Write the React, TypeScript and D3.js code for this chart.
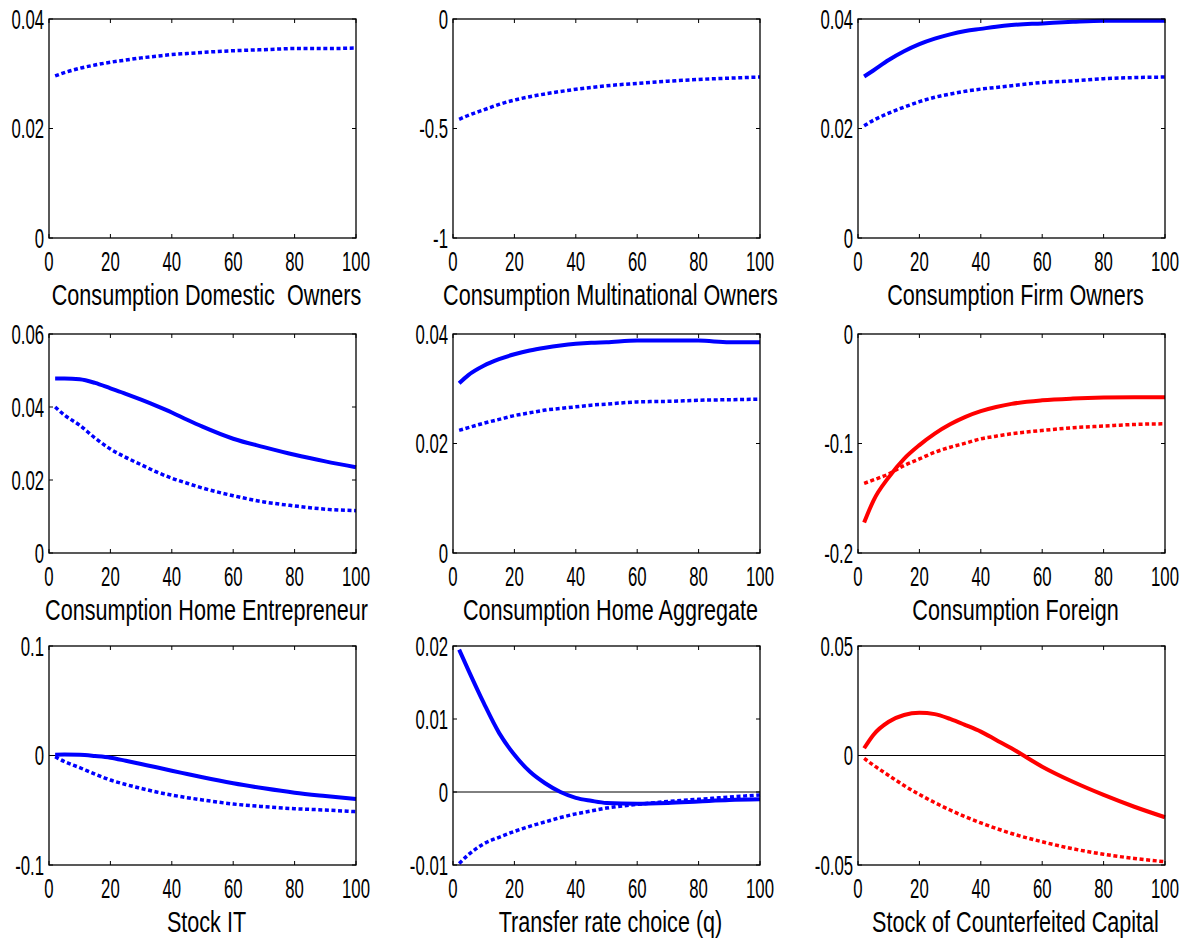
import React from "react";
import * as d3 from "d3";

const periods = [2, 5, 10, 15, 20, 25, 30, 35, 40, 45, 50, 60, 70, 80, 90, 100];

const xTicks = [0, 20, 40, 60, 80, 100];

const titles = [
  "Consumption Domestic  Owners",
  "Consumption Multinational Owners",
  "Consumption Firm Owners",
  "Consumption Home Entrepreneur",
  "Consumption Home Aggregate",
  "Consumption Foreign",
  "Stock IT",
  "Transfer rate choice (q)",
  "Stock of Counterfeited Capital",
];

const yDomains: [number, number][] = [
  [0, 0.04], [-1, 0], [0, 0.04],
  [0, 0.06], [0, 0.04], [-0.2, 0],
  [-0.1, 0.1], [-0.01, 0.02], [-0.05, 0.05],
];

const yTicks: number[][] = [
  [0, 0.02, 0.04], [-1, -0.5, 0], [0, 0.02, 0.04],
  [0, 0.02, 0.04, 0.06], [0, 0.02, 0.04], [-0.2, -0.1, 0],
  [-0.1, 0, 0.1], [-0.01, 0, 0.01, 0.02], [-0.05, 0, 0.05],
];

const colors = ["blue", "blue", "blue", "blue", "blue", "red", "blue", "blue", "red"];
const zeroLines = [false, false, false, false, false, false, true, true, true];

// Solid lines (null = no solid line in that panel)
const solidDomesticOwners: number[] | null = null;
const solidMultinationalOwners: number[] | null = null;
const solidFirmOwners = [0.0295, 0.0306, 0.0325, 0.0341, 0.0354, 0.0364, 0.0372, 0.0378, 0.0382, 0.0386, 0.0389, 0.0392, 0.0395, 0.0397, 0.0397, 0.0397];
const solidHomeEntrepreneur = [0.0478, 0.0478, 0.0476, 0.0466, 0.0451, 0.0436, 0.042, 0.0403, 0.0385, 0.0365, 0.0346, 0.0313, 0.029, 0.0269, 0.0251, 0.0235];
const solidHomeAggregate = [0.031, 0.0325, 0.0342, 0.0354, 0.0363, 0.037, 0.0375, 0.0379, 0.0382, 0.0384, 0.0385, 0.0388, 0.0388, 0.0388, 0.0385, 0.0385];
const solidForeign = [-0.1722, -0.1523, -0.1309, -0.114, -0.1015, -0.091, -0.0825, -0.0757, -0.0705, -0.0667, -0.0638, -0.0606, -0.059, -0.0581, -0.0578, -0.0578];
const solidStockIT = [0.0007, 0.0008, 0.0006, -0.0005, -0.002, -0.0048, -0.0078, -0.0108, -0.0139, -0.0169, -0.0199, -0.0254, -0.03, -0.034, -0.037, -0.0397];
const solidTransferRate = [0.0195, 0.0167, 0.0122, 0.0081, 0.0051, 0.0028, 0.0012, 0.0, -0.0008, -0.0012, -0.0015, -0.0016, -0.0015, -0.0013, -0.0011, -0.001];
const solidCounterfeit = [0.0033, 0.0094, 0.0154, 0.0185, 0.0195, 0.0189, 0.0167, 0.0139, 0.0109, 0.0071, 0.0033, -0.0051, -0.012, -0.018, -0.0234, -0.0282];

// Dotted lines
const dottedDomesticOwners = [0.0296, 0.0302, 0.031, 0.0316, 0.0321, 0.0325, 0.0329, 0.0332, 0.0335, 0.0337, 0.0339, 0.0342, 0.0344, 0.0346, 0.0346, 0.0347];
const dottedMultinationalOwners = [-0.458, -0.44, -0.415, -0.39, -0.37, -0.355, -0.342, -0.331, -0.321, -0.313, -0.305, -0.294, -0.284, -0.276, -0.27, -0.265];
const dottedFirmOwners = [0.0205, 0.0215, 0.0228, 0.0239, 0.0249, 0.0257, 0.0263, 0.0268, 0.0272, 0.0275, 0.0278, 0.0284, 0.0287, 0.0291, 0.0293, 0.0294];
const dottedHomeEntrepreneur = [0.04, 0.0378, 0.035, 0.0315, 0.0285, 0.0262, 0.0242, 0.0222, 0.0205, 0.0191, 0.0178, 0.0157, 0.014, 0.0129, 0.012, 0.0116];
const dottedHomeAggregate = [0.0224, 0.0229, 0.0237, 0.0244, 0.0251, 0.0256, 0.0261, 0.0264, 0.0267, 0.027, 0.0272, 0.0276, 0.0277, 0.0279, 0.028, 0.0281];
const dottedForeign = [-0.1364, -0.1333, -0.1278, -0.1202, -0.1141, -0.108, -0.1034, -0.0997, -0.0957, -0.0933, -0.0911, -0.0881, -0.0856, -0.0841, -0.0826, -0.082];
const dottedStockIT = [-0.0011, -0.0055, -0.0111, -0.017, -0.0224, -0.0265, -0.03, -0.0333, -0.0361, -0.0385, -0.0406, -0.0443, -0.0467, -0.0486, -0.0498, -0.0513];
const dottedTransferRate = [-0.0098, -0.0086, -0.0071, -0.0062, -0.0054, -0.0047, -0.0041, -0.0035, -0.003, -0.0026, -0.0022, -0.0017, -0.0013, -0.001, -0.0007, -0.0004];
const dottedCounterfeit = [-0.0013, -0.0044, -0.0091, -0.0137, -0.0178, -0.0215, -0.0249, -0.028, -0.0308, -0.0333, -0.0356, -0.0394, -0.0426, -0.0451, -0.047, -0.0485];

const solids = [
  solidDomesticOwners, solidMultinationalOwners, solidFirmOwners,
  solidHomeEntrepreneur, solidHomeAggregate, solidForeign,
  solidStockIT, solidTransferRate, solidCounterfeit,
];
const dotteds = [
  dottedDomesticOwners, dottedMultinationalOwners, dottedFirmOwners,
  dottedHomeEntrepreneur, dottedHomeAggregate, dottedForeign,
  dottedStockIT, dottedTransferRate, dottedCounterfeit,
];

const W = 1187;
const H = 944;
const colLeft = [49, 453, 858];
const rowTop = [19, 334, 646];
const PW = 307;
const PH = 219;
const FONT = "'Liberation Sans', Arial, Helvetica, sans-serif";
const TICK_FS = 27;
const TICK_SX = 0.62;
const TITLE_FS = 30;
const TITLE_SX = 0.72;

function Panel({ i }: { i: number }) {
  const left = colLeft[i % 3];
  const top = rowTop[Math.floor(i / 3)];
  const x = d3.scaleLinear().domain([0, 100]).range([left, left + PW]);
  const y = d3.scaleLinear().domain(yDomains[i]).range([top + PH, top]);
  const line = d3
    .line<number>()
    .x((_, k) => x(periods[k]))
    .y((v) => y(v))
    .curve(d3.curveMonotoneX);
  const color = colors[i];
  const solid = solids[i];
  const dotted = dotteds[i];
  const tl = 4;
  return (
    <g>
      {zeroLines[i] && (
        <line x1={left} x2={left + PW} y1={y(0)} y2={y(0)} stroke="black" strokeWidth={1} />
      )}
      {dotted && (
        <path d={line(dotted) || ""} fill="none" stroke={color} strokeWidth={3.5} strokeDasharray="4,2.6" />
      )}
      {solid && (
        <path d={line(solid) || ""} fill="none" stroke={color} strokeWidth={4} strokeLinejoin="round" />
      )}
      <rect x={left} y={top} width={PW} height={PH} fill="none" stroke="black" strokeWidth={1.3} />
      {xTicks.map((t) => (
        <g key={"x" + t}>
          <line x1={x(t)} x2={x(t)} y1={top + PH} y2={top + PH - tl} stroke="black" strokeWidth={1} />
          <line x1={x(t)} x2={x(t)} y1={top} y2={top + tl} stroke="black" strokeWidth={1} />
          <text
            transform={`translate(${x(t)},${top + PH + 33}) scale(${TICK_SX},1)`}
            textAnchor="middle"
            fontFamily={FONT}
            fontSize={TICK_FS}
            fill="black"
          >
            {String(t)}
          </text>
        </g>
      ))}
      {yTicks[i].map((t) => (
        <g key={"y" + t}>
          <line x1={left} x2={left + tl} y1={y(t)} y2={y(t)} stroke="black" strokeWidth={1} />
          <line x1={left + PW} x2={left + PW - tl} y1={y(t)} y2={y(t)} stroke="black" strokeWidth={1} />
          <text
            transform={`translate(${left - 5},${y(t) + 9.5}) scale(${TICK_SX},1)`}
            textAnchor="end"
            fontFamily={FONT}
            fontSize={TICK_FS}
            fill="black"
          >
            {String(t)}
          </text>
        </g>
      ))}
      <text
        transform={`translate(${left + PW / 2 + 4},${top + PH + 67}) scale(${TITLE_SX},1)`}
        textAnchor="middle"
        fontFamily={FONT}
        fontSize={TITLE_FS}
        fill="black"
        style={{ whiteSpace: "pre" }}
      >
        {titles[i]}
      </text>
    </g>
  );
}

export default function App() {
  return (
    <svg
      width={W}
      height={H}
      viewBox={`0 0 ${W} ${H}`}
      style={{ position: "absolute", left: 0, top: 0, background: "white" }}
    >
      <rect x={0} y={0} width={W} height={H} fill="white" />
      {titles.map((_, i) => (
        <Panel key={i} i={i} />
      ))}
    </svg>
  );
}
